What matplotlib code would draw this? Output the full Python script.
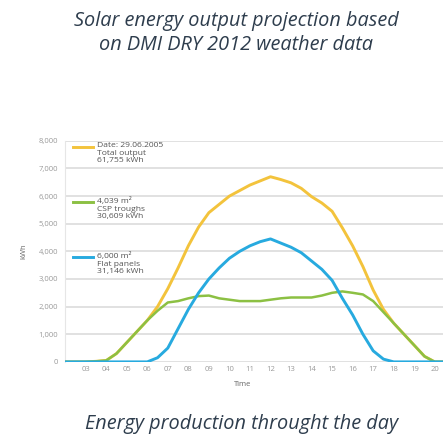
"""
Solar energy output projection for one summer day (DMI DRY 2012),
flat panels vs CSP troughs and the combined total.
Output: out.png
"""
import matplotlib
matplotlib.use("Agg")
import matplotlib.pyplot as plt
from matplotlib.lines import Line2D
import numpy as np

plt.rcParams.update({
    "font.family": ["Open Sans", "DejaVu Sans"],
    "font.size":   5,
})

TITLE_COLOR = "#2e3d4d"
TICK_COLOR  = "#9a9a9a"
GRID_COLOR  = "#dedede"
TOTAL_COLOR = "#f3c33c"
CSP_COLOR   = "#8cc043"
FLAT_COLOR  = "#27aadf"

# Half-hourly output, kWh
hours = np.arange(2.0, 21.0, 0.5)
flat_panels = [
    0, 0, 0, 0, 0, 0, 0, 0, 0,                      # 02:00 - 06:00
    0.15, 0.5, 1.2, 1.9, 2.5, 3.0, 3.4, 3.75, 4.0,  # 06:30 - 10:30
    4.2, 4.35, 4.45, 4.3, 4.15, 3.95, 3.65, 3.35,   # 11:00 - 14:30
    2.95, 2.3, 1.7, 1.0, 0.4, 0.1, 0, 0, 0, 0, 0, 0,
]
csp_troughs = [
    0, 0, 0, 0.02, 0.05, 0.3, 0.7, 1.1, 1.5,
    1.85, 2.15, 2.2, 2.3, 2.38, 2.4, 2.3, 2.25, 2.2,
    2.2, 2.2, 2.25, 2.3, 2.33, 2.33, 2.33, 2.4,
    2.5, 2.55, 2.5, 2.44, 2.2, 1.8, 1.4, 1.0, 0.6, 0.2, 0, 0,
]
total_output = [
    0, 0, 0, 0.02, 0.05, 0.3, 0.7, 1.1, 1.5,
    2.0, 2.65, 3.4, 4.2, 4.88, 5.4, 5.7, 6.0, 6.2,
    6.4, 6.55, 6.7, 6.6, 6.48, 6.28, 5.98, 5.75,
    5.45, 4.85, 4.2, 3.45, 2.6, 1.9, 1.4, 1.0, 0.6, 0.2, 0, 0,
]
flat_panels  = np.array(flat_panels) * 1000
csp_troughs  = np.array(csp_troughs) * 1000
total_output = np.array(total_output) * 1000

hour_ticks  = np.arange(3, 21)
hour_labels = [f"{h:02d}" for h in hour_ticks]
kwh_ticks   = np.arange(0, 8001, 1000)

legend_labels = [
    "Date: 29.06.2005\nTotal output\n61,755 kWh",
    "4,039 m\u00b2\nCSP troughs\n30,609 kWh",
    "6,000 m\u00b2\nFlat panels\n31,146 kWh",
]

fig = plt.figure(figsize=(4.43, 4.36), dpi=100)
ax = fig.add_axes([0.147, 0.170, 0.853, 0.507])

ax.plot(hours, total_output, color=TOTAL_COLOR, lw=2.1, zorder=3)
ax.plot(hours, csp_troughs,  color=CSP_COLOR,   lw=1.8, zorder=4)
ax.plot(hours, flat_panels,  color=FLAT_COLOR,  lw=2.1, zorder=5)

ax.set_xlim(2.0, 20.4)
ax.set_ylim(0, 8000)
ax.set_xticks(hour_ticks)
ax.set_xticklabels(hour_labels)
ax.set_yticks(kwh_ticks)
ax.set_yticklabels([f"{v:,}" for v in kwh_ticks])
ax.tick_params(length=0, colors=TICK_COLOR, labelsize=5.5)
ax.tick_params(axis="y", pad=5)
ax.tick_params(axis="x", pad=3)

ax.yaxis.grid(True, color=GRID_COLOR, lw=1.3, zorder=0)
ax.set_axisbelow(True)
for side in ("top", "right", "bottom"):
    ax.spines[side].set_visible(False)
ax.spines["left"].set_color("#e6e6e6")
ax.spines["left"].set_linewidth(0.8)

ax.set_ylabel("kWh", color="#666666", fontsize=5.5)
ax.yaxis.set_label_coords(-0.10, 0.5)
ax.set_xlabel("Time", color="#666666", fontsize=5.5)
ax.xaxis.set_label_coords(0.47, -0.085)

# Hand-placed legend: one block per series, stacked down the left side
legend_colors = [TOTAL_COLOR, CSP_COLOR, FLAT_COLOR]
for i, (label, color) in enumerate(zip(legend_labels, legend_colors)):
    y = 0.973 - i * 0.249
    ax.add_line(Line2D([0.022, 0.075], [y, y], transform=ax.transAxes,
                       color=color, lw=2.1, zorder=6))
    ax.text(0.084, y + 0.02, label, transform=ax.transAxes,
            va="top", ha="left", fontsize=6.1, color="#555555",
            linespacing=1.1, zorder=6)

fig.text(0.533, 0.975,
         "Solar energy output projection based\non DMI DRY 2012 weather data",
         ha="center", va="top", style="italic", fontsize=14.3,
         color=TITLE_COLOR, linespacing=1.28)
fig.text(0.545, 0.004, "Energy production throught the day",
         ha="center", va="bottom", style="italic", fontsize=14.3,
         color=TITLE_COLOR)

fig.savefig("out.png", dpi=100, facecolor="white")
plt.close(fig)
